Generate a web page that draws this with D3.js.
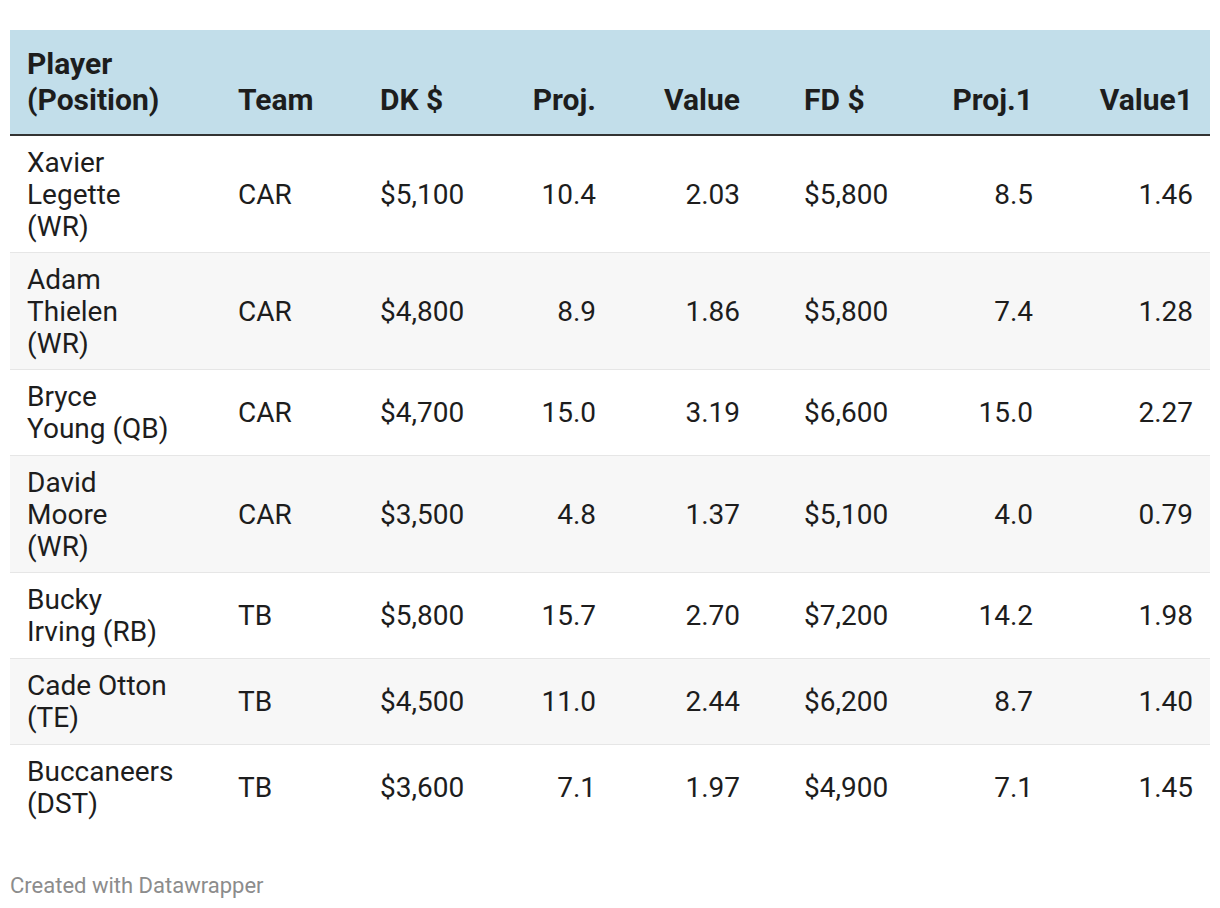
<!DOCTYPE html>
<html>
<head>
<meta charset="utf-8">
<script src="https://cdn.jsdelivr.net/npm/d3@7"></script>
<style>
  body { margin: 0; background: #fff; }
  svg { display: block; font-family: Roboto, sans-serif; }
</style>
</head>
<body>
<div id="chart"></div>
<script>
// table data
var headers = ['Player (Position)', 'Team', 'DK $', 'Proj.', 'Value', 'FD $', 'Proj.1', 'Value1'];
var players = ['Xavier Legette (WR)', 'Adam Thielen (WR)', 'Bryce Young (QB)', 'David Moore (WR)',
  'Bucky Irving (RB)', 'Cade Otton (TE)', 'Buccaneers (DST)'];
var teams = ['CAR', 'CAR', 'CAR', 'CAR', 'TB', 'TB', 'TB'];
var dkSalary = [5100, 4800, 4700, 3500, 5800, 4500, 3600];
var dkProj = [10.4, 8.9, 15.0, 4.8, 15.7, 11.0, 7.1];
var dkValue = [2.03, 1.86, 3.19, 1.37, 2.70, 2.44, 1.97];
var fdSalary = [5800, 5800, 6600, 5100, 7200, 6200, 4900];
var fdProj = [8.5, 7.4, 15.0, 4.0, 14.2, 8.7, 7.1];
var fdValue = [1.46, 1.28, 2.27, 0.79, 1.98, 1.40, 1.45];

var WIDTH = 1220, HEIGHT = 908;
var LEFT = 10, RIGHT = 1210;
var LINE = 32, HEADER_LINE = 36;
var FONT = 28, HEADER_FONT = 30;
var PLAYER_MAX = 143;

var money = d3.format('$,');
var fmt1 = d3.format('.1f');
var fmt2 = d3.format('.2f');

var cols = [
  {key: 'player', anchor: 'start', get: function(i) { return players[i]; }},
  {key: 'team', anchor: 'start', get: function(i) { return teams[i]; }},
  {key: 'dk', anchor: 'start', get: function(i) { return money(dkSalary[i]); }},
  {key: 'dkProj', anchor: 'end', get: function(i) { return fmt1(dkProj[i]); }},
  {key: 'dkValue', anchor: 'end', get: function(i) { return fmt2(dkValue[i]); }},
  {key: 'fd', anchor: 'start', get: function(i) { return money(fdSalary[i]); }},
  {key: 'fdProj', anchor: 'end', get: function(i) { return fmt1(fdProj[i]); }},
  {key: 'fdValue', anchor: 'end', get: function(i) { return fmt2(fdValue[i]); }}
];

// x anchor of each column (left edge for start, right edge for end)
var x = d3.scaleOrdinal()
  .domain(cols.map(function(c) { return c.key; }))
  .range([27, 238, 380, 596, 740, 804, 1033, 1193]);

var svg = d3.select('#chart').append('svg')
  .attr('width', WIDTH)
  .attr('height', HEIGHT);

// measure text for wrapping the player column
var probe = svg.append('text').attr('visibility', 'hidden');
function wrap(str, max, size, weight) {
  probe.attr('font-size', size).attr('font-weight', weight || 400);
  var words = str.split(' '), lines = [], cur = '';
  words.forEach(function(w) {
    var test = cur ? cur + ' ' + w : w;
    probe.text(test);
    if (cur && probe.node().getComputedTextLength() > max) {
      lines.push(cur);
      cur = w;
    } else {
      cur = test;
    }
  });
  lines.push(cur);
  return lines;
}

// header
var headTop = 30, headBottom = 134;
svg.append('rect')
  .attr('x', LEFT).attr('y', headTop)
  .attr('width', RIGHT - LEFT).attr('height', headBottom - headTop)
  .attr('fill', '#c2deea');

var headerLines = headers.map(function(h, j) {
  return j === 0 ? wrap(h, PLAYER_MAX, HEADER_FONT, 700) : [h];
});
var headLast = 99;
headers.forEach(function(h, j) {
  var lines = headerLines[j];
  var t = svg.append('text')
    .attr('font-size', HEADER_FONT)
    .attr('font-weight', 700)
    .attr('fill', '#1d1d1d')
    .attr('text-anchor', cols[j].anchor);
  lines.forEach(function(l, k) {
    t.append('tspan')
      .attr('x', x(cols[j].key))
      .attr('y', headLast - (lines.length - 1 - k) * HEADER_LINE)
      .attr('dy', '0.35em')
      .text(l);
  });
});

svg.append('line')
  .attr('x1', LEFT).attr('x2', RIGHT)
  .attr('y1', headBottom + 1).attr('y2', headBottom + 1)
  .attr('stroke', '#333').attr('stroke-width', 2);

// body rows
var y0 = headBottom + 2;
var rowLines = players.map(function(p) { return wrap(p, PLAYER_MAX, FONT); });
function rowHeight(i) { return rowLines[i].length * 31 + 23; }
var rowTops = [];
var acc = y0;
rowLines.forEach(function(l, i) {
  rowTops.push(acc);
  acc += rowHeight(i) + 1;
});

var rows = svg.selectAll('g.row')
  .data(players.map(function(p, i) { return i; }))
  .enter().append('g')
  .attr('class', 'row')
  .attr('transform', function(i) { return 'translate(0,' + rowTops[i] + ')'; });

rows.append('rect')
  .attr('x', LEFT)
  .attr('width', RIGHT - LEFT)
  .attr('height', rowHeight)
  .attr('fill', function(i) { return i % 2 ? '#f7f7f7' : '#fff'; });

rows.filter(function(i) { return i < players.length - 1; })
  .append('line')
  .attr('x1', LEFT).attr('x2', RIGHT)
  .attr('y1', function(i) { return rowHeight(i) + 0.5; })
  .attr('y2', function(i) { return rowHeight(i) + 0.5; })
  .attr('stroke', '#e6e6e6').attr('stroke-width', 1);

cols.forEach(function(c, j) {
  rows.append('text')
    .attr('font-size', FONT)
    .attr('fill', '#1d1d1d')
    .attr('text-anchor', c.anchor)
    .each(function(i) {
      var h = rowHeight(i);
      var lines = j === 0 ? rowLines[i] : [c.get(i)];
      var t = d3.select(this);
      lines.forEach(function(l, k) {
        t.append('tspan')
          .attr('x', x(c.key))
          .attr('y', h / 2 + (k - (lines.length - 1) / 2) * LINE)
          .attr('dy', '0.35em')
          .text(l);
      });
    });
});

probe.remove();

// footer
svg.append('text')
  .attr('x', LEFT)
  .attr('y', 885)
  .attr('dy', '0.35em')
  .attr('font-size', 22)
  .attr('fill', '#8c8c8c')
  .text('Created with Datawrapper');
</script>
</body>
</html>
